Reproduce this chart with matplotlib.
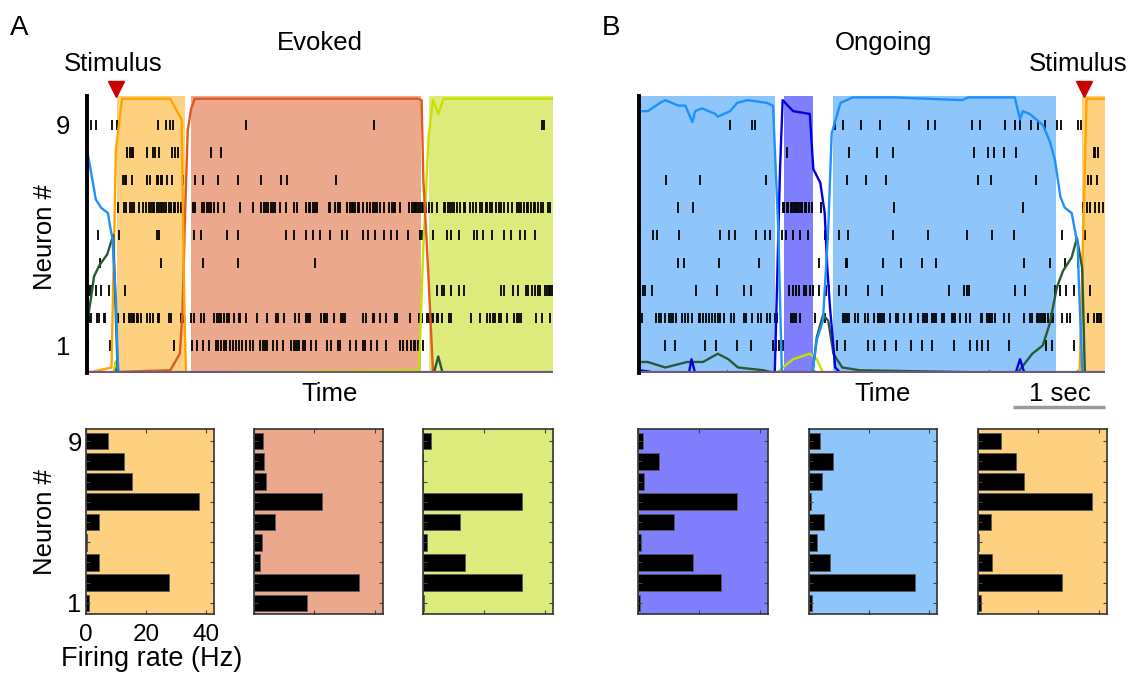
import matplotlib
matplotlib.use("Agg")
import matplotlib.pyplot as plt

plt.rcParams['font.family'] = ['Liberation Sans', 'DejaVu Sans']

# ---------------- data ----------------
T_END = 5.32  # seconds shown in each raster
NEURONS = [1, 2, 3, 4, 5, 6, 7, 8, 9]

# Evoked trial spike times (s)
ev_n9 = [0.05, 0.10, 0.29, 0.34, 0.81, 0.90, 0.95, 0.98, 1.82, 3.28, 5.20, 5.22]
ev_n8 = [0.46, 0.49, 0.51, 0.53, 0.69, 0.75, 0.78, 0.82, 0.97, 1.00, 1.04, 1.41, 1.53]
ev_n7 = [0.41, 0.43, 0.45, 0.51, 0.69, 0.72, 0.80, 0.81, 0.84, 0.86, 0.91, 0.97, 1.10, 1.23,
         1.32, 1.50, 1.72, 1.99, 2.21, 2.28, 2.84]
ev_n6 = [0.35, 0.42, 0.44, 0.49, 0.51, 0.54, 0.59, 0.64, 0.67, 0.71, 0.73, 0.75, 0.77, 0.80,
         0.82, 0.84, 0.86, 0.88, 0.90, 0.94, 0.96, 0.99, 1.01, 1.04, 1.07, 1.10, 1.21, 1.23,
         1.31, 1.34, 1.37, 1.39, 1.41, 1.45, 1.50, 1.56, 1.75, 1.89, 1.99, 2.02, 2.04, 2.07,
         2.10, 2.12, 2.15, 2.20, 2.27, 2.36, 2.40, 2.50, 2.53, 2.55, 2.58, 2.60, 2.63, 2.76,
         2.77, 2.83, 2.87, 2.89, 2.97, 3.00, 3.02, 3.04, 3.06, 3.09, 3.11, 3.15, 3.20, 3.23,
         3.26, 3.29, 3.31, 3.34, 3.39, 3.45, 3.48, 3.50, 3.52, 3.57, 3.68, 3.71, 3.73, 3.74,
         3.76, 3.78, 3.80, 3.82, 3.84, 3.87, 3.90, 3.94, 3.99, 4.07, 4.09, 4.12, 4.14, 4.17,
         4.19, 4.22, 4.26, 4.30, 4.32, 4.37, 4.41, 4.44, 4.49, 4.51, 4.55, 4.57, 4.60, 4.62,
         4.67, 4.70, 4.73, 4.76, 4.81, 4.85, 4.91, 4.93, 4.96, 4.99, 5.02, 5.04, 5.07, 5.10,
         5.12, 5.15, 5.18, 5.21, 5.26, 5.29]
ev_n5 = [0.13, 0.37, 0.80, 0.82, 1.22, 1.30, 1.60, 1.72, 2.27, 2.36, 2.50, 2.58, 2.66, 2.77,
         2.91, 2.97, 3.15, 3.21, 3.29, 3.39, 3.47, 3.54, 3.66, 3.80, 3.83, 3.95, 4.11, 4.16,
         4.25, 4.42, 4.45, 4.52, 4.62, 4.76, 4.84, 4.94, 5.00, 5.11]
ev_n4 = [0.15, 0.84, 1.32, 1.72, 2.60]
ev_n3 = [0.02, 0.05, 0.10, 0.16, 0.25, 0.43, 4.00, 4.05, 4.07, 4.16, 4.25, 4.30, 4.73, 4.76,
         4.86, 4.92, 5.01, 5.04, 5.08, 5.11, 5.15, 5.17, 5.23, 5.25, 5.27, 5.29, 5.31]
ev_n2 = [0.01, 0.02, 0.05, 0.11, 0.14, 0.19, 0.21, 0.35, 0.42, 0.48, 0.50, 0.52, 0.54, 0.57,
         0.58, 0.62, 0.69, 0.72, 0.75, 0.81, 0.82, 0.94, 0.96, 1.07, 1.09, 1.11, 1.19, 1.22,
         1.30, 1.33, 1.45, 1.48, 1.51, 1.53, 1.56, 1.60, 1.62, 1.68, 1.74, 1.75, 1.82, 1.94,
         2.05, 2.16, 2.18, 2.25, 2.37, 2.42, 2.50, 2.52, 2.55, 2.67, 2.70, 2.72, 2.74, 2.82,
         2.90, 2.92, 2.95, 3.15, 3.19, 3.26, 3.28, 3.35, 3.41, 3.52, 3.54, 3.69, 3.79, 3.82,
         3.88, 3.90, 3.92, 3.94, 3.95, 3.99, 4.01, 4.05, 4.13, 4.16, 4.38, 4.49, 4.57, 4.60,
         4.63, 4.66, 4.70, 4.73, 4.80, 4.88, 4.91, 4.93, 4.96, 5.13, 5.20, 5.29]
ev_n1 = [0.01, 0.26, 0.99, 1.20, 1.26, 1.32, 1.39, 1.47, 1.50, 1.53, 1.56, 1.59, 1.63, 1.67,
         1.70, 1.74, 1.77, 1.82, 1.86, 1.90, 1.97, 2.01, 2.03, 2.05, 2.12, 2.17, 2.24, 2.33,
         2.36, 2.37, 2.40, 2.42, 2.47, 2.49, 2.56, 2.61, 2.74, 2.78, 2.86, 2.89, 3.00, 3.07,
         3.15, 3.17, 3.24, 3.31, 3.41, 3.57, 3.61, 3.65, 3.70, 3.73, 3.75, 3.78, 3.79, 3.84]

# Ongoing trial spike times (s)
on_n9 = [1.04, 1.29, 1.32, 2.24, 2.33, 2.54, 2.75, 3.08, 3.30, 3.38, 3.80, 3.89, 4.18, 4.29,
         4.35, 4.48, 4.56, 4.63, 4.77, 4.82, 5.01, 5.05]
on_n8 = [1.69, 2.40, 2.72, 2.90, 3.83, 3.98, 4.05, 4.17, 4.30, 5.19, 5.21, 5.24]
on_n7 = [0.31, 0.70, 1.45, 2.38, 2.59, 2.82, 3.87, 4.02, 4.53, 5.13, 5.16, 5.23]
on_n6 = [0.45, 0.62, 1.64, 1.66, 1.69, 1.70, 1.73, 1.75, 1.77, 1.79, 1.80, 1.83, 1.85, 1.86,
         1.89, 1.91, 1.94, 1.97, 2.08, 2.91, 4.38, 5.07, 5.11, 5.15, 5.21, 5.25, 5.30]
on_n5 = [0.16, 0.21, 0.46, 0.93, 1.03, 1.10, 1.34, 1.44, 1.49, 1.63, 1.68, 1.76, 1.84, 1.93,
         2.12, 2.16, 2.28, 2.39, 2.90, 3.30, 3.74, 4.03, 4.28, 4.83, 5.09]
on_n4 = [0.44, 0.51, 0.91, 1.37, 2.06, 2.36, 2.38, 2.78, 2.99, 3.23, 3.39, 4.39, 4.69, 4.86, 5.01]
on_n3 = [0.01, 0.04, 0.07, 0.15, 0.65, 0.89, 1.20, 1.28, 1.71, 1.76, 1.79, 1.83, 1.88, 1.91,
         1.95, 1.99, 2.06, 2.14, 2.17, 2.28, 2.36, 2.61, 2.77, 3.54, 3.71, 3.74, 3.77, 4.29,
         4.41, 4.75, 4.81, 4.88, 4.97, 5.15]
on_n2 = [0.03, 0.19, 0.23, 0.25, 0.30, 0.34, 0.37, 0.39, 0.42, 0.49, 0.52, 0.56, 0.61, 0.68,
         0.70, 0.73, 0.77, 0.80, 0.83, 0.87, 0.90, 0.93, 0.97, 1.05, 1.09, 1.20, 1.22, 1.29,
         1.36, 1.39, 1.46, 1.49, 1.55, 1.58, 1.74, 1.75, 1.77, 1.79, 1.84, 2.01, 2.12, 2.33,
         2.35, 2.37, 2.40, 2.47, 2.50, 2.58, 2.62, 2.68, 2.73, 2.75, 2.77, 2.80, 2.86, 2.93,
         2.96, 3.02, 3.09, 3.11, 3.19, 3.24, 3.27, 3.29, 3.34, 3.37, 3.39, 3.46, 3.48, 3.57,
         3.59, 3.61, 3.66, 3.73, 3.78, 3.90, 3.92, 3.97, 3.99, 4.01, 4.03, 4.06, 4.17, 4.22,
         4.39, 4.46, 4.49, 4.54, 4.56, 4.58, 4.60, 4.62, 4.64, 4.67, 4.70, 4.73, 4.83, 4.89,
         4.92, 5.05, 5.13, 5.20, 5.23, 5.24, 5.26, 5.28]
on_n1 = [0.30, 0.41, 0.75, 0.88, 1.12, 1.28, 1.53, 1.56, 1.60, 1.64, 2.26, 2.35, 2.61, 2.68,
         2.81, 2.93, 3.10, 3.23, 3.34, 3.60, 3.78, 3.86, 3.92, 3.98, 4.22, 4.65, 4.71, 4.97]

# State probabilities (time s, probability)
ev_blue_t = [0.00, 0.04, 0.10, 0.16, 0.24, 0.27, 0.29, 0.33, 0.35, 0.36, 5.32]
ev_blue_p = [0.81, 0.74, 0.63, 0.60, 0.58, 0.52, 0.49, 0.27, 0.05, 0.00, 0.00]
ev_green_t = [0.00, 0.04, 0.08, 0.14, 0.23, 0.27, 0.30, 0.33, 0.35, 3.96, 4.01, 4.06, 5.32]
ev_green_p = [0.18, 0.26, 0.35, 0.39, 0.43, 0.47, 0.50, 0.20, 0.00, 0.00, 0.06, 0.00, 0.00]
ev_navy_t = [0.00, 0.31, 0.33, 0.35, 5.32]
ev_navy_p = [0.00, 0.00, 0.04, 0.00, 0.00]
ev_orange_t = [0.00, 0.28, 0.33, 0.40, 0.95, 1.08, 1.09, 1.11, 1.13, 5.32]
ev_orange_p = [0.00, 0.02, 0.81, 0.995, 0.995, 0.92, 0.70, 0.26, 0.00, 0.00]
ev_salmon_t = [0.00, 0.95, 1.06, 1.09, 1.12, 1.15, 1.19, 1.23, 3.78, 3.82, 3.84, 3.90, 3.95, 5.32]
ev_salmon_p = [0.00, 0.01, 0.07, 0.22, 0.58, 0.88, 0.96, 0.995, 0.995, 0.99, 0.70, 0.34, 0.00, 0.00]
ev_lime_t = [0.00, 0.30, 0.33, 0.36, 3.79, 3.84, 3.90, 3.95, 4.01, 4.07, 5.32]
ev_lime_p = [0.00, 0.00, 0.04, 0.00, 0.01, 0.46, 0.86, 0.99, 0.94, 0.995, 0.995]

on_blue_t = [0.00, 0.10, 0.24, 0.30, 0.45, 0.53, 0.61, 0.64, 0.72, 0.87, 0.90, 1.04, 1.12,
             1.24, 1.46, 1.53, 1.59, 1.63, 1.67, 1.98, 2.03, 2.10, 2.16, 2.20, 2.30, 2.44,
             2.89, 3.69, 3.76, 4.29, 4.35, 4.38, 4.46, 4.61, 4.69, 4.75, 4.81, 4.86, 4.94,
             5.01, 5.02, 5.05, 5.06, 5.32]
on_blue_p = [0.95, 0.95, 0.98, 0.99, 0.97, 0.97, 0.91, 0.95, 0.96, 0.94, 0.93, 0.95, 0.98,
             0.99, 0.98, 0.97, 0.52, 0.01, 0.00, 0.00, 0.12, 0.19, 0.52, 0.87, 0.98, 1.00,
             1.00, 0.99, 1.00, 1.00, 0.92, 0.95, 0.94, 0.90, 0.84, 0.77, 0.64, 0.60, 0.58,
             0.46, 0.34, 0.10, 0.00, 0.00]
on_navy_t = [0.00, 0.12, 0.15, 0.57, 0.60, 0.64, 1.55, 1.61, 1.64, 1.76, 1.95, 1.99, 2.07,
             2.12, 2.15, 2.18, 2.24, 2.30, 4.30, 4.35, 4.40, 5.32]
on_navy_p = [0.01, 0.005, 0.00, 0.00, 0.05, 0.00, 0.00, 0.74, 0.99, 0.95, 0.94, 0.74, 0.69,
             0.58, 0.38, 0.24, 0.02, 0.00, 0.00, 0.05, 0.00, 0.00]
on_green_t = [0.00, 0.10, 0.30, 0.55, 0.73, 0.90, 1.02, 1.13, 1.42, 1.55, 1.98, 2.03, 2.10,
              2.16, 2.22, 2.32, 2.52, 4.32, 4.49, 4.61, 4.69, 4.77, 4.84, 4.94, 5.00, 5.06,
              5.09, 5.32]
on_green_p = [0.04, 0.04, 0.02, 0.04, 0.04, 0.07, 0.05, 0.02, 0.01, 0.00, 0.00, 0.13, 0.21,
              0.19, 0.07, 0.02, 0.01, 0.00, 0.07, 0.10, 0.18, 0.31, 0.37, 0.42, 0.49, 0.38,
              0.00, 0.00]
on_lime_t = [0.00, 1.57, 1.64, 1.76, 1.95, 2.03, 2.10, 5.03, 5.07, 5.10, 5.32]
on_lime_p = [0.00, 0.00, 0.02, 0.05, 0.07, 0.05, 0.00, 0.00, 0.03, 0.00, 0.00]
on_orange_t = [0.00, 5.03, 5.11, 5.32]
on_orange_p = [0.00, 0.00, 0.995, 0.995]

# Shaded state intervals (start, end) in s
ev_shade_orange = (0.34, 1.12)
ev_shade_salmon = (1.19, 3.81)
ev_shade_lime = (3.91, 5.32)
on_shade_blue1 = (0.00, 1.55)
on_shade_purple = (1.655, 1.99)
on_shade_blue2 = (2.21, 4.76)
on_shade_orange = (5.06, 5.32)

stim_evoked = 0.33
stim_ongoing = 5.08

# Firing rates per state (Hz), neurons 1..9
rate_orange = [0.9, 27.7, 4.5, 0.4, 4.2, 37.8, 15.3, 12.7, 7.5]
rate_salmon = [17.7, 34.9, 1.9, 2.7, 6.9, 22.6, 4.1, 3.2, 2.9]
rate_lime = [0.3, 32.5, 13.7, 1.3, 12.0, 32.5, 0.0, 0.0, 2.5]
rate_purple = [0.7, 27.4, 18.1, 1.1, 11.7, 32.6, 1.9, 6.8, 1.7]
rate_blue = [1.1, 35.3, 7.1, 2.6, 4.9, 0.7, 4.4, 8.1, 3.8]

# ---------------- colours ----------------
C_ORANGE_F, C_ORANGE_L = '#FDD17F', '#FFA500'
C_SALMON_F, C_SALMON_L = '#EBA88C', '#E05A1E'
C_LIME_F, C_LIME_L = '#DDEB7D', '#C8E000'
C_BLUE_F, C_BLUE_L = '#8EC6FC', '#1E90FF'
C_PURP_F, C_NAVY_L = '#8080FF', '#0000E0'
C_GREEN_L = '#2A5A35'
C_BASE = '#6E5A80'

FS = 18.5

W, H = 1128, 673
fig = plt.figure(figsize=(W / 100, H / 100), dpi=100)


def px_axes(x0, y0, x1, y1):
    return fig.add_axes([x0 / W, 1 - y1 / H, (x1 - x0) / W, (y1 - y0) / H])


def ftxt(x, y, s, **kw):
    kw.setdefault('ha', 'center')
    kw.setdefault('va', 'center')
    kw.setdefault('fontsize', FS)
    fig.text(x / W, 1 - y / H, s, **kw)


YTOP = 10.05


def raster(ax, spikes, shades, curves, stim_t, yticks):
    for (a, b), col in shades:
        ax.axvspan(a, b, color=col, lw=0, zorder=0)
    for n, times in zip(NEURONS, spikes):
        ax.vlines(times, n - 0.19, n + 0.19, color='black', lw=1.3, zorder=2)
    for t, p, col in curves:
        ax.plot(t, [v * 10 for v in p], color=col, lw=1.7, zorder=3, solid_joinstyle='round')
    ax.axhline(0.02, color=C_BASE, lw=1.6, zorder=3.5)
    ax.set_xlim(0, T_END)
    ax.set_ylim(0, YTOP)
    for s in ['top', 'right', 'bottom']:
        ax.spines[s].set_visible(False)
    ax.spines['left'].set_linewidth(2.8)
    ax.spines['left'].set_color('black')
    ax.spines['left'].set_zorder(4)
    ax.set_yticks(yticks)
    ax.set_yticklabels([str(v) for v in yticks], fontsize=FS)
    ax.tick_params(axis='y', length=0, pad=12)
    ax.plot([stim_t], [1.024], marker='v', ms=12, color='#CC0000',
            transform=ax.get_xaxis_transform(), clip_on=False, zorder=5)


# ---- Panel A raster ----
axA = px_axes(87, 96, 553, 373)
raster(axA,
       [ev_n1, ev_n2, ev_n3, ev_n4, ev_n5, ev_n6, ev_n7, ev_n8, ev_n9],
       [(ev_shade_orange, C_ORANGE_F), (ev_shade_salmon, C_SALMON_F), (ev_shade_lime, C_LIME_F)],
       [(ev_navy_t, ev_navy_p, C_NAVY_L), (ev_lime_t, ev_lime_p, C_LIME_L),
        (ev_salmon_t, ev_salmon_p, C_SALMON_L), (ev_orange_t, ev_orange_p, C_ORANGE_L),
        (ev_green_t, ev_green_p, C_GREEN_L), (ev_blue_t, ev_blue_p, C_BLUE_L)],
       stim_evoked, [1, 9])
axA.set_xticks([])

# ---- Panel B raster ----
axB = px_axes(639, 96, 1105, 373)
raster(axB,
       [on_n1, on_n2, on_n3, on_n4, on_n5, on_n6, on_n7, on_n8, on_n9],
       [(on_shade_blue1, C_BLUE_F), (on_shade_purple, C_PURP_F), (on_shade_blue2, C_BLUE_F),
        (on_shade_orange, C_ORANGE_F)],
       [(on_orange_t, on_orange_p, C_ORANGE_L), (on_lime_t, on_lime_p, C_LIME_L),
        (on_green_t, on_green_p, C_GREEN_L), (on_navy_t, on_navy_p, C_NAVY_L),
        (on_blue_t, on_blue_p, C_BLUE_L)],
       stim_ongoing, [])
for tk in [1, 2, 3, 4, 5]:
    axB.plot([tk, tk], [0, 0.12], color='#666666', lw=0.9, zorder=4)
axB.set_xticks([])

# scale bar (1 s)
axB.plot([T_END - 1.05, T_END], [-0.123, -0.123], color='#999999', lw=2.5,
         transform=axB.get_xaxis_transform(), clip_on=False, solid_capstyle='butt')


# ---- bar charts ----
def bars(ax, vals, face, labels=False):
    ax.set_facecolor(face)
    ax.barh(NEURONS, vals, height=0.82, color='black', edgecolor='#5a5a5a', lw=0.6)
    ax.set_xlim(0, 42.7)
    ax.set_ylim(0.45, 9.6)
    ax.set_xticks([0, 20, 40])
    ax.set_yticks(NEURONS)
    ax.tick_params(direction='in', length=3, top=True, right=True, color='#444444', width=0.8)
    for s in ax.spines.values():
        s.set_color('#333333')
        s.set_linewidth(1.2)
    if labels:
        ax.set_xticklabels(['0', '20', '40'], fontsize=17.5)
        ax.set_yticklabels(['1', '', '', '', '', '', '', '', '9'], fontsize=FS)
        ax.tick_params(axis='x', pad=7)
        ax.tick_params(axis='y', pad=3)
    else:
        ax.set_xticklabels([])
        ax.set_yticklabels([])


bars(px_axes(86, 429, 214, 614), rate_orange, C_ORANGE_F, labels=True)
bars(px_axes(254, 429, 383, 614), rate_salmon, C_SALMON_F)
bars(px_axes(423, 429, 553, 614), rate_lime, C_LIME_F)
bars(px_axes(638, 429, 768, 614), rate_purple, C_PURP_F)
bars(px_axes(809, 429, 937, 614), rate_blue, C_BLUE_F)
bars(px_axes(978, 429, 1107, 614), rate_orange, C_ORANGE_F)

# ---- texts ----
ftxt(19, 28, 'A', fontsize=20)
ftxt(611, 28, 'B', fontsize=20)
ftxt(320, 43, 'Evoked')
ftxt(883, 43, 'Ongoing')
ftxt(113, 64, 'Stimulus')
ftxt(1078, 64, 'Stimulus')
ftxt(45, 237, 'Neuron #', rotation=90)
ftxt(45, 522, 'Neuron #', rotation=90)
ftxt(330, 394, 'Time')
ftxt(883, 394, 'Time')
ftxt(1060, 394, '1 sec')
ftxt(152, 659, 'Firing rate (Hz)', fontsize=19.5)

fig.savefig('out.png', dpi=100)
